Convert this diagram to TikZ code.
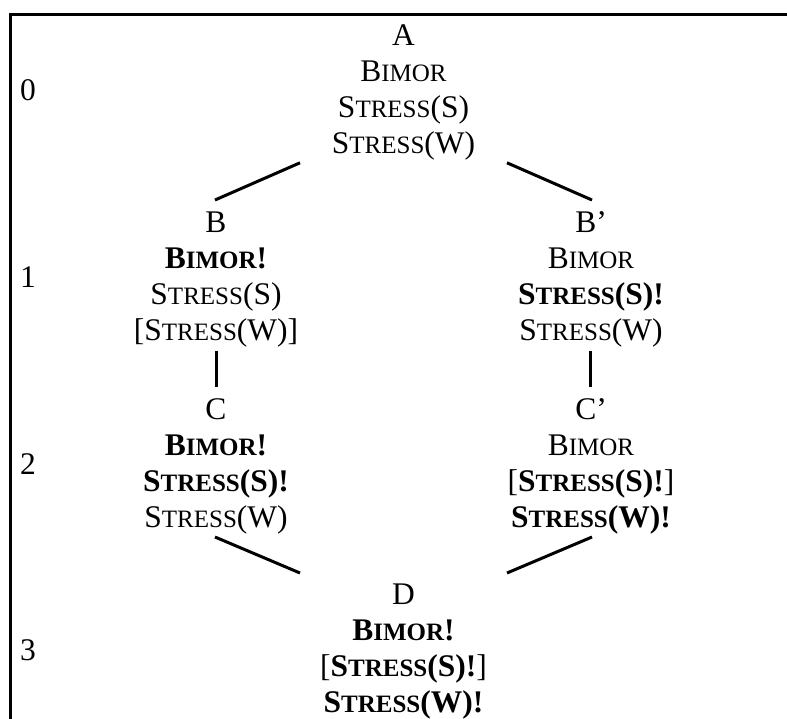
\documentclass[tikz,border=0pt]{standalone}
\usepackage{fontspec}
\setmainfont{Liberation Serif}
\newcommand\smc[2]{#1{\fontsize{25}{36}\selectfont #2}}
\newcommand\sBIMOR{\smc{B}{IMOR}}
\newcommand\sSTR{\smc{S}{TRESS}}
\begin{document}
\begin{tikzpicture}[x=1pt,y=-1pt,
  blk/.style={anchor=north,inner sep=0pt,outer sep=0pt,align=center,
    font=\fontsize{31.5}{36}\selectfont},
  lvl/.style={anchor=base west,inner sep=0pt,font=\fontsize{31.5}{36}\selectfont},
  link/.style={line width=3pt},
  frame/.style={line width=3pt}]
\useasboundingbox (0,0) rectangle (787,718);
\draw[frame] (10,720) -- (10,14) -- (790,14);
% level labels
\node[lvl] (l0) at (20,100) {0};
\node[lvl] (l1) at (20,287) {1};
\node[lvl] (l2) at (20,474) {2};
\node[lvl] (l3) at (20,660) {3};
% blocks
\node[blk] (A) at (403.5,19.8) {\strut A\\ \strut\sBIMOR\\ \strut\sSTR(S)\\ \strut\sSTR(W)};
\node[blk] (B) at (216,206.8) {\strut B\\ \strut\textbf{\sBIMOR!}\\ \strut\sSTR(S)\\ \strut{[}\sSTR(W){]}};
\node[blk] (Bp) at (591,206.8) {\strut B’\\ \strut\sBIMOR\\ \strut\textbf{\sSTR(S)!}\\ \strut\sSTR(W)};
\node[blk] (C) at (216,393.8) {\strut C\\ \strut\textbf{\sBIMOR!}\\ \strut\textbf{\sSTR(S)!}\\ \strut\sSTR(W)};
\node[blk] (Cp) at (591,393.8) {\strut C’\\ \strut\sBIMOR\\ \strut{[}\textbf{\sSTR(S)!}{]}\\ \strut\textbf{\sSTR(W)!}};
\node[blk] (D) at (403.5,578.8) {\strut D\\ \strut\textbf{\sBIMOR!}\\ \strut{[}\textbf{\sSTR(S)!}{]}\\ \strut\textbf{\sSTR(W)!}};
% connectors
\draw[link] ([xshift=-103.5pt,yshift=1pt]A.south) -- ([xshift=-1pt,yshift=6.8pt]B.north);
\draw[link] ([xshift=103.5pt,yshift=1pt]A.south) -- ([xshift=1pt,yshift=6.8pt]Bp.north);
\draw[link] (B.south) -- ([yshift=7pt]C.north);
\draw[link] ([xshift=-1pt]Bp.south) -- ([xshift=-1pt,yshift=7pt]Cp.north);
\draw[link] ([xshift=-1pt,yshift=0.8pt]C.south) -- ([xshift=-103.5pt,yshift=5.8pt]D.north);
\draw[link] ([xshift=1pt,yshift=0.8pt]Cp.south) -- ([xshift=103.5pt,yshift=5.8pt]D.north);
\end{tikzpicture}
\end{document}
